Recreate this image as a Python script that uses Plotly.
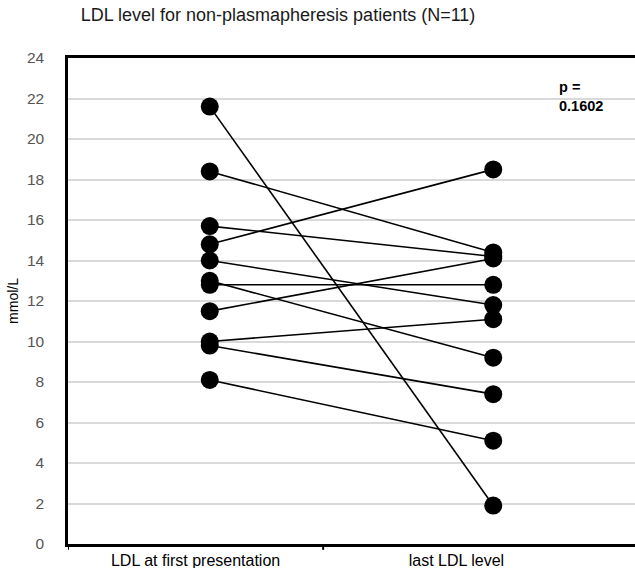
import plotly.graph_objects as go

categories = ["LDL at first presentation", "last LDL level"]
first_ldl = [21.6, 18.4, 15.7, 14.8, 14.0, 13.0, 12.8, 11.5, 10.0, 9.8, 8.1]
last_ldl = [1.9, 14.4, 14.2, 18.5, 11.8, 9.2, 12.8, 14.1, 11.1, 7.4, 5.1]
y_ticks = list(range(0, 25, 2))
p_text = "p =<br>0.1602"
title = "LDL level for non-plasmapheresis patients (N=11)"

FONT = "Liberation Sans, Arial, sans-serif"

fig = go.Figure()
for a, b in zip(first_ldl, last_ldl):
    fig.add_trace(go.Scatter(
        x=[0, 1], y=[a, b], mode="lines+markers",
        line=dict(color="black", width=1.6),
        marker=dict(color="black", size=18),
        showlegend=False, hoverinfo="y",
    ))

# label positions (slightly left of point columns, as in the reference)
label_pos = [-0.05, 0.87]

fig.update_layout(
    width=635, height=568,
    margin=dict(l=68, r=0, t=58, b=24),
    plot_bgcolor="white", paper_bgcolor="white",
    title=dict(text=title, x=278 / 635, xanchor="center", y=1 - 15 / 568, yanchor="middle",
               font=dict(family=FONT, size=18, color="#1a1a1a")),
    xaxis=dict(range=[-0.5, 1.5], showgrid=False, zeroline=False,
               showline=True, linecolor="black", linewidth=2.5, mirror=True,
               tickvals=label_pos, ticktext=categories, ticks="",
               tickfont=dict(family=FONT, size=16, color="black")),
    yaxis=dict(range=[0, 24], tickvals=y_ticks, showgrid=True,
               gridcolor="#d9d9d9", gridwidth=1.5, zeroline=False,
               showline=True, linecolor="black", linewidth=2.5,
               ticks="", ticklabelstandoff=18,
               tickfont=dict(family=FONT, size=15.5, color="#555555"),
               title=dict(text="mmol/L", standoff=6,
                          font=dict(family=FONT, size=14, color="black"))),
)

# tick marks below the x axis (left edge and category boundary)
for xv in [-0.5, 0.4]:
    fig.add_shape(type="line", xref="x", yref="paper", x0=xv, x1=xv, y0=0, y1=-0.012,
                  line=dict(color="black", width=2))

fig.add_annotation(text=p_text, xref="paper", yref="paper",
                   x=(557 - 68) / 567, y=1 - (77 - 58) / 486, xanchor="left", yanchor="top",
                   align="left", showarrow=False,
                   font=dict(family=FONT, size=14.5, color="black", weight="bold"))

fig.write_html("out.html")
